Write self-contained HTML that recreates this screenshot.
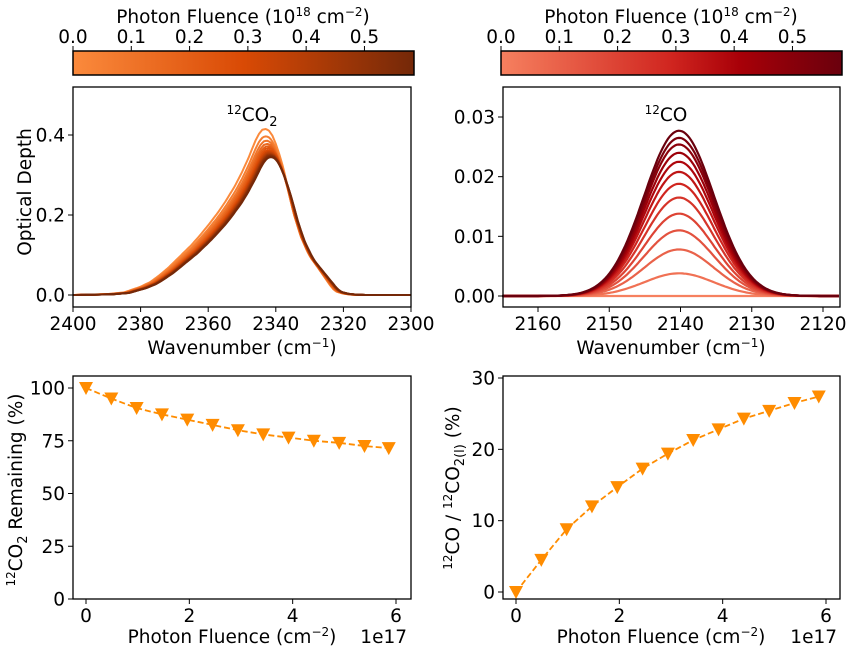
<!DOCTYPE html>
<html><head><meta charset="utf-8"><style>
body{margin:0;background:#fff;}
svg{display:block;font-family:"DejaVu Sans","Liberation Sans",sans-serif;}
</style></head><body>
<svg id="c" width="853" height="655" viewBox="0 0 853 655" xmlns="http://www.w3.org/2000/svg">
<defs>
<linearGradient id="gOr" x1="0" x2="1"><stop offset="0" stop-color="#fb8a3c"/><stop offset="0.5" stop-color="#d94a05"/><stop offset="1" stop-color="#742808"/></linearGradient>
<linearGradient id="gRd" x1="0" x2="1"><stop offset="0" stop-color="#f6805f"/><stop offset="0.5" stop-color="#d0251f"/><stop offset="0.7" stop-color="#a80008"/><stop offset="1" stop-color="#6a000d"/></linearGradient>
</defs>
</svg>
<script>
// ---- data ----
const fluence = [0,0.49,0.98,1.47,1.96,2.45,2.94,3.43,3.92,4.41,4.90,5.39,5.86];
const co2Remaining = [100,95,90.5,87.5,85,82.5,80,78,76.5,75,74,72.5,71.5];
const coRatio = [0,4.5,8.8,12,14.7,17.3,19.4,21.3,22.8,24.3,25.4,26.5,27.4];
const co2Peaks = [0.415,0.397,0.386,0.378,0.372,0.367,0.362,0.358,0.355,0.352,0.350,0.348,0.345];
const co2Shift = [0,-0.2,-0.4,-0.6,-0.8,-1.0,-1.1,-1.2,-1.3,-1.4,-1.5,-1.6,-1.7];
const co2ProfileWn = [2400,2390,2385,2380,2377,2375,2372,2370,2367,2365,2362,2360,2357,2355,2352,2350,2348,2347,2346,2345,2344,2343,2342,2341,2340,2339,2338,2337,2336,2335,2334,2333,2332,2331,2330,2329,2328,2327,2326,2325,2324,2323,2322,2320,2318,2315,2300];
const co2ProfileVal = [0,0.005,0.015,0.05,0.08,0.11,0.16,0.20,0.26,0.30,0.37,0.42,0.50,0.56,0.66,0.74,0.83,0.88,0.93,0.97,0.995,1.0,0.99,0.96,0.91,0.85,0.78,0.70,0.61,0.52,0.45,0.38,0.33,0.28,0.24,0.21,0.18,0.15,0.12,0.09,0.06,0.035,0.02,0.008,0.003,0,0];
const coPeaks = [0,0.0038,0.0078,0.011,0.0138,0.0165,0.0188,0.0208,0.0225,0.024,0.0254,0.0265,0.0277];
const coCenter = 2140.2, coSigma = 4.9;
const cbTicks = [0.0,0.1,0.2,0.3,0.4,0.5];
const co2YTicks = [0.0,0.2,0.4];
const co2XTicks = [2400,2380,2360,2340,2320,2300];
const coYTicks = [0.00,0.01,0.02,0.03];
const coXTicks = [2160,2150,2140,2130,2120];
const remYTicks = [0,25,50,75,100];
const ratioYTicks = [0,10,20,30];
const flXTicks = [0,2,4,6];

const FS=18.5;
const svg=document.getElementById('c');
const NS='http://www.w3.org/2000/svg';
function el(tag,attrs,parent){const e=document.createElementNS(NS,tag);for(const k in attrs)e.setAttribute(k,attrs[k]);(parent||svg).appendChild(e);return e;}
function txt(x,y,s,anchor,size,parent){const t=el('text',{x:x,y:y,'text-anchor':anchor||'middle','font-size':size||FS,fill:'#000'},parent);t.innerHTML=s;return t;}
function lin(d0,d1,p0,p1){return v=>p0+(v-d0)*(p1-p0)/(d1-d0);}
function lerpCol(a,b,t){const pa=[parseInt(a.slice(1,3),16),parseInt(a.slice(3,5),16),parseInt(a.slice(5,7),16)],pb=[parseInt(b.slice(1,3),16),parseInt(b.slice(3,5),16),parseInt(b.slice(5,7),16)];return 'rgb('+pa.map((v,i)=>Math.round(v+(pb[i]-v)*t)).join(',')+')';}
function cmap(stops,t){for(let i=0;i<stops.length-1;i++){if(t<=stops[i+1][0]){return lerpCol(stops[i][1],stops[i+1][1],(t-stops[i][0])/(stops[i+1][0]-stops[i][0]));}}return stops[stops.length-1][1];}
const orStops=[[0,'#fb8a3c'],[0.5,'#d94a05'],[1,'#742808']];
const rdStops=[[0,'#f6805f'],[0.5,'#d0251f'],[0.7,'#a80008'],[1,'#6a000d']];
function interp(xs,ys,x){for(let i=0;i<xs.length-1;i++){const a=xs[i],b=xs[i+1];if((x<=a&&x>=b)||(x>=a&&x<=b)){return ys[i]+(ys[i+1]-ys[i])*(x-a)/(b-a);}}return 0;}
const SUP='font-size="12"';

function colorbar(x0,name,grad){
  const g=el('g',{});
  el('rect',{x:x0,y:51,width:341,height:24,fill:'url(#'+grad+')',stroke:'#000','stroke-width':1.5},g);
  const sx=lin(0,0.585,x0,x0+341);
  cbTicks.forEach(v=>{el('line',{x1:sx(v),x2:sx(v),y1:51,y2:46,stroke:'#000','stroke-width':1},g);txt(sx(v),43,v.toFixed(1),'middle',FS,g);});
  txt(x0+170,23,'Photon Fluence (10<tspan dy="-7" '+SUP+'>18</tspan><tspan dy="7"> cm</tspan><tspan dy="-7" '+SUP+'>−2</tspan><tspan dy="7">)</tspan>','middle',FS,g);
}
colorbar(73,'colorbar-co2','gOr');
colorbar(501,'colorbar-co','gRd');

function axes(x0,y0,x1,y1,name){const r=el('rect',{x:x0,y:y0,width:x1-x0,height:y1-y0,fill:'none',stroke:'#000','stroke-width':1.3});}
function xticks(ticks,sx,yb,fmt){ticks.forEach(v=>{el('line',{x1:sx(v),x2:sx(v),y1:yb,y2:yb+5,stroke:'#000'});txt(sx(v),yb+23,fmt(v),'middle',FS);});}
function yticks(ticks,sy,xl,fmt){ticks.forEach(v=>{el('line',{x1:xl,x2:xl-5,y1:sy(v),y2:sy(v),stroke:'#000'});txt(xl-8,sy(v)+6.5,fmt(v),'end',FS);});}

// ---- CO2 spectra ----
{
  const sx=lin(2400,2300,73,411), sy=lin(0,0.4,295,135);
  const g=el('g',{});
  co2Peaks.forEach((p,i)=>{
    let d='';for(let w=2400;w>=2300;w-=0.5){const v=p*interp(co2ProfileWn,co2ProfileVal,w-co2Shift[i]);d+=(d?'L':'M')+sx(w).toFixed(1)+','+sy(v).toFixed(1);}
    const pth=el('path',{d:d,fill:'none',stroke:cmap(orStops,fluence[i]/5.86),'stroke-width':2},g);
    
  });
  axes(73,87,411,307,'co2-spectrum-axes');
  xticks(co2XTicks,sx,307,v=>v);yticks(co2YTicks,sy,73,v=>v.toFixed(1));
  txt(252,121,'<tspan dy="-7" '+SUP+'>12</tspan><tspan dy="7">CO</tspan><tspan dy="5" font-size="13">2</tspan>','middle',FS);
  txt(242,354,'Wavenumber (cm<tspan dy="-7" '+SUP+'>−1</tspan><tspan dy="7">)</tspan>','middle',FS);
  const yl=txt(0,0,'Optical Depth','middle',FS);yl.setAttribute('transform','translate(31,192) rotate(-90)');
}
// ---- CO spectra ----
{
  const sx=lin(2160,2120,538,823), sy=lin(0,0.03,296,117);
  const g=el('g',{});
  coPeaks.forEach((p,i)=>{
    let d='';for(let w=2165;w>=2117.7;w-=0.25){const v=p*Math.exp(-0.5*Math.pow((w-coCenter)/coSigma,2));d+=(d?'L':'M')+sx(w).toFixed(1)+','+sy(v).toFixed(1);}
    const pth=el('path',{d:d,fill:'none',stroke:cmap(rdStops,fluence[i]/5.86),'stroke-width':2.2},g);
    
  });
  axes(503,87,840,307,'co-spectrum-axes');
  xticks(coXTicks,sx,307,v=>v);yticks(coYTicks,sy,503,v=>v.toFixed(2));
  txt(666,121,'<tspan dy="-7" '+SUP+'>12</tspan><tspan dy="7">CO</tspan>','middle',FS);
  txt(671,354,'Wavenumber (cm<tspan dy="-7" '+SUP+'>−1</tspan><tspan dy="7">)</tspan>','middle',FS);
}
function tri(g,x,y){el('path',{d:`M${x-7},${y-6}L${x+7},${y-6}L${x},${y+7}Z`,fill:'#ff8c00'},g);}
function series(vals,sx,sy,name){
  const g=el('g',{});
  let d='';fluence.forEach((f,i)=>{d+=(i?'L':'M')+sx(f)+','+sy(vals[i]);});
  el('path',{d:d,fill:'none',stroke:'#ff8c00','stroke-width':1.8,'stroke-dasharray':'6,3'},g);
  fluence.forEach((f,i)=>tri(g,sx(f),sy(vals[i])));
}
// ---- remaining ----
{
  const sx=lin(0,6,86,396), sy=lin(0,100,599,388);
  series(co2Remaining,sx,sy,'co2-remaining-series');
  axes(73,376,411,599,'co2-remaining-axes');
  xticks(flXTicks,sx,599,v=>v);yticks(remYTicks,sy,73,v=>v);
  txt(232,643,'Photon Fluence (cm<tspan dy="-7" '+SUP+'>−2</tspan><tspan dy="7">)</tspan>','middle',FS);
  txt(407,643,'1e17','end',FS);
  const yl=txt(0,0,'<tspan dy="-7" '+SUP+'>12</tspan><tspan dy="7">CO</tspan><tspan dy="5" font-size="13">2</tspan><tspan dy="-5"> Remaining (%)</tspan>','middle',FS);yl.setAttribute('transform','translate(22,490) rotate(-90)');
}
// ---- ratio ----
{
  const sx=lin(0,6,516,826), sy=lin(0,30,592,378);
  series(coRatio,sx,sy,'co-ratio-series');
  axes(503,376,840,599,'co-ratio-axes');
  xticks(flXTicks,sx,599,v=>v);yticks(ratioYTicks,sy,503,v=>v);
  txt(661,643,'Photon Fluence (cm<tspan dy="-7" '+SUP+'>−2</tspan><tspan dy="7">)</tspan>','middle',FS);
  txt(837,643,'1e17','end',FS);
  const yl=txt(0,0,'<tspan dy="-7" '+SUP+'>12</tspan><tspan dy="7">CO / </tspan><tspan dy="-7" '+SUP+'>12</tspan><tspan dy="7">CO</tspan><tspan dy="5" font-size="13">2(l)</tspan><tspan dy="-5"> (%)</tspan>','middle',FS);yl.setAttribute('transform','translate(459,488) rotate(-90)');
}
</script>
</body></html>
